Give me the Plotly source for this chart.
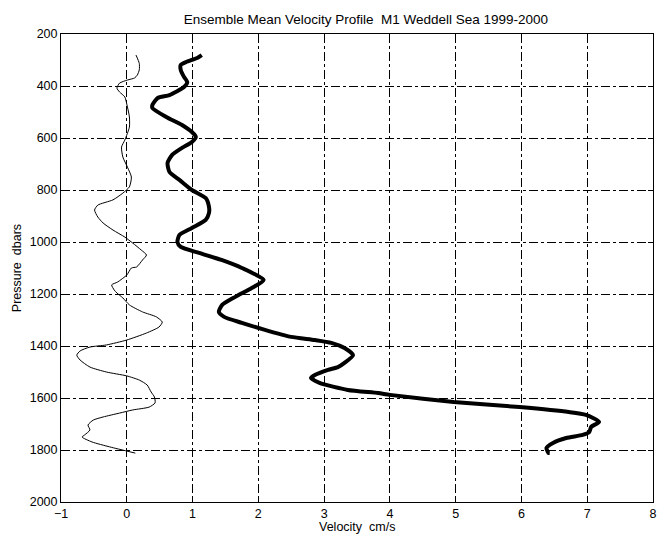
import plotly.graph_objects as go

# Thin profile (velocity cm/s vs pressure dbars)
thin_vel = [0.14, 0.19, 0.19, 0.16, 0.12, 0.01, -0.11, -0.15, -0.11, -0.03, 0.01, 0.04, 0.04,
            -0.03, -0.08, -0.06, 0.01, 0.07, 0.04, -0.06, -0.21, -0.44, -0.49, -0.44, -0.36,
            -0.21, -0.03, 0.09, 0.22, 0.30, 0.24, 0.15, 0.07, 0.0, -0.14, -0.23, -0.19, -0.15,
            -0.06, 0.04, 0.24, 0.45, 0.54, 0.49, 0.30, 0.0, -0.31, -0.56, -0.71, -0.76, -0.71,
            -0.56, -0.31, 0.0, 0.19, 0.31, 0.37, 0.42, 0.43, 0.34, 0.09, -0.11, -0.36, -0.51,
            -0.59, -0.56, -0.64, -0.68, -0.53, -0.26, 0.0, 0.13]
thin_p = [281, 313, 338, 358, 369, 377, 389, 408, 423, 442, 481, 519, 558,
          608, 635, 673, 712, 750, 788, 812, 838, 858, 877, 904, 927,
          954, 981, 1004, 1031, 1050, 1069, 1096, 1100, 1127, 1154, 1165, 1185, 1196,
          1215, 1242, 1269, 1288, 1308, 1327, 1350, 1377, 1396, 1404, 1419, 1435, 1454,
          1481, 1500, 1515, 1531, 1550, 1577, 1596, 1619, 1635, 1646, 1658, 1673, 1685,
          1704, 1723, 1742, 1750, 1769, 1788, 1804, 1812]

# Thick profile
thick_vel = [1.14, 1.07, 0.90, 0.82, 0.82, 0.87, 0.92, 0.87, 0.65, 0.47, 0.39, 0.39, 0.60,
             0.84, 0.99, 1.05, 0.99, 0.84, 0.69, 0.62, 0.65, 0.80, 0.99, 1.20, 1.25, 1.25,
             1.20, 0.99, 0.80, 0.77, 0.82, 1.10, 1.44, 1.75, 2.08, 1.90, 1.65, 1.45, 1.40,
             1.48, 1.75, 2.10, 2.50, 2.86, 3.11, 3.31, 3.44, 3.31, 3.21, 3.06, 2.86, 2.80,
             2.93, 3.36, 3.82, 4.0, 4.97, 5.97, 6.72, 6.98, 7.18, 7.06, 7.03, 6.93, 6.68,
             6.48, 6.38, 6.41, 6.43]
thick_p = [281, 292, 308, 319, 338, 365, 385, 404, 435, 446, 473, 485, 519,
           550, 577, 596, 615, 638, 665, 696, 731, 761, 800, 831, 865, 888,
           915, 946, 973, 1000, 1019, 1042, 1069, 1100, 1146, 1177, 1211, 1242, 1269,
           1288, 1311, 1338, 1365, 1377, 1388, 1408, 1435, 1465, 1481, 1492, 1512, 1523,
           1542, 1569, 1581, 1588, 1615, 1635, 1654, 1665, 1692, 1711, 1731, 1742, 1754,
           1773, 1792, 1811, 1812]

x_ticks = [-1, 0, 1, 2, 3, 4, 5, 6, 7, 8]
y_ticks = [200, 400, 600, 800, 1000, 1200, 1400, 1600, 1800, 2000]

FONT = "Liberation Sans, Arial, sans-serif"

fig = go.Figure()
fig.add_trace(go.Scatter(x=thin_vel, y=thin_p, mode="lines",
                         line=dict(color="black", width=1, shape="spline", smoothing=0.6),
                         showlegend=False))
fig.add_trace(go.Scatter(x=thick_vel, y=thick_p, mode="lines",
                         line=dict(color="black", width=4, shape="spline", smoothing=0.6),
                         showlegend=False))

axis_common = dict(showgrid=True, gridcolor="black", gridwidth=0.8, griddash="dashdot",
                   showline=True, linecolor="black", linewidth=1, mirror="ticks",
                   ticks="inside", ticklen=5, tickcolor="black", zeroline=False,
                   tickfont=dict(family=FONT, size=12.5, color="black"))

fig.update_xaxes(range=[-1, 8], tickvals=x_ticks, **axis_common)
fig.update_yaxes(range=[2000, 200], tickvals=y_ticks, **axis_common)

fig.update_layout(
    width=661, height=535,
    margin=dict(l=61, r=4, t=34, b=33),
    paper_bgcolor="white", plot_bgcolor="white",
    font=dict(family=FONT, color="black"),
    title=dict(text="Ensemble Mean Velocity Profile  M1 Weddell Sea 1999-2000",
               x=0.515, xref="paper", xanchor="center",
               y=1 - 19 / 535, yref="container", yanchor="middle",
               font=dict(family=FONT, size=13.5, color="black")),
    annotations=[
        dict(text="Velocity  cm/s", x=0.5, y=-0.053, xref="paper", yref="paper",
             xanchor="center", yanchor="middle", showarrow=False,
             font=dict(family=FONT, size=12.5, color="black")),
        dict(text="Pressure  dbars", x=-0.074, y=0.5, xref="paper", yref="paper",
             xanchor="center", yanchor="middle", showarrow=False, textangle=-90,
             font=dict(family=FONT, size=12.5, color="black")),
    ],
)

fig.write_html("out.html")
